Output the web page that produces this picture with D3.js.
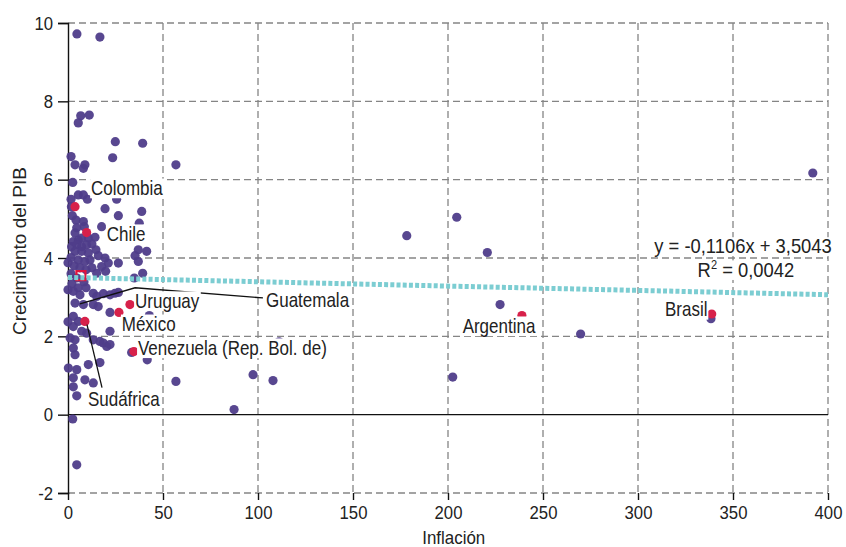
<!DOCTYPE html>
<html>
<head>
<meta charset="utf-8">
<script src="https://cdn.jsdelivr.net/npm/d3@7"></script>
<style>
  body { margin: 0; background: #fff; }
  svg text { font-family: 'Liberation Sans', Arial, sans-serif; fill: #222; }
</style>
</head>
<body>
<script>
// inflación (x) y crecimiento del PIB (y), todos los países
var inflation = [
  4.7, 16.8, 6.7, 11.2, 5.4, 24.9, 39.3, 1.6, 23.5, 3.7, 8.1, 8.9, 56.8, 2.5, 392,
  1.6, 5.4, 8.1, 10.2, 25.6, 41.1, 1.8, 19.5, 38.8, 2.3, 26.5, 4.2, 8.1, 8.6, 37.5,
  17.7, 4.6, 3.7, 5.4, 7.2, 10.7, 14.2, 2.8, 1.9, 4.6, 7.2, 9.8, 12.6, 3.7, 7.2,
  10.7, 14.7, 37.0, 41.4, 35.3, 16.0, 19.5, 5.4, 8.9, 11.6, 0.0, 1.6, 21.2, 17.7, 26.5,
  37.0, 3.2, 6.3, 9.5, 12.6, 39.3, 34.9, 19.8, 15.1, 1.6, 4.7, 8.4, 2.1, 5.3, 9.5,
  0.0, 2.8, 6.3, 13.3, 18.6, 24.7, 22.1, 26.5, 15.1, 3.7, 8.1, 13.3, 15.9, 22.1, 42.8,
  2.8, 5.4, 0.0, 2.8, 7.2, 9.8, 22.1, 1.1, 3.7, 13.3, 16.8, 18.6, 20.4, 22.1, 33.5,
  41.7, 2.8, 3.7, 16.8, 10.7, 0.2, 4.6, 2.8, 8.9, 13.3, 2.8, 4.6, 2.5, 4.6, 56.8,
  97.4, 107.9, 87.4, 111.1, 178.3, 204.6, 220.7, 227.4, 269.8, 202.5, 338.4
];
var growth = [
  9.72, 9.64, 7.63, 7.65, 7.45, 6.97, 6.93, 6.59, 6.56, 6.38, 6.29, 6.38, 6.38, 5.93, 6.17,
  5.50, 5.61, 5.61, 5.50, 5.50, 5.66, 5.31, 5.26, 5.19, 5.08, 5.08, 4.97, 4.93, 4.80, 4.89,
  4.80, 4.77, 4.64, 4.46, 4.51, 4.51, 4.53, 4.42, 4.29, 4.34, 4.29, 4.34, 4.36, 4.17, 4.17,
  4.13, 4.21, 4.21, 4.17, 4.06, 4.06, 4.00, 3.95, 3.91, 3.95, 3.88, 4.01, 3.87, 3.78, 3.87,
  3.91, 3.80, 3.75, 3.70, 3.75, 3.61, 3.49, 3.66, 3.61, 3.60, 3.49, 3.39, 3.34, 3.24, 3.24,
  3.19, 3.15, 3.06, 3.10, 3.09, 3.10, 3.06, 3.12, 3.02, 2.85, 2.81, 2.81, 2.76, 2.61, 2.53,
  2.51, 2.38, 2.37, 2.25, 2.13, 2.08, 2.13, 1.96, 1.91, 1.91, 1.87, 1.83, 1.74, 1.79, 1.59,
  1.40, 1.70, 1.53, 1.33, 1.28, 1.19, 1.15, 0.94, 0.89, 0.81, 0.71, 0.48, -0.11, -1.28, 0.85,
  1.02, 0.87, 0.13, 1.86, 4.57, 5.04, 4.14, 2.81, 2.06, 0.96, 2.45
];

// países destacados
var hlNames     = ["Colombia", "Chile", "Uruguay", "México", "Sudáfrica", "Venezuela (Rep. Bol. de)", "Argentina", "Brasil", "Guatemala"];
var hlInflation = [3.7, 9.8, 32.6, 26.8, 8.9, 34.7, 238.9, 338.8, null];
var hlGrowth    = [5.31, 4.65, 2.81, 2.61, 2.38, 1.61, 2.53, 2.57, null];
// donde empieza el texto de cada etiqueta (unidades de datos)
var labelX = [12.1, 20.4, 35.3, 28.3, 10.5, 36.8, 207.7, 314.2, 104.2];
var labelY = [5.61, 4.44, 2.73, 2.14, 0.21, 1.53, 2.09, 2.51, 2.76];

// líneas guía
var guatemalaLine = [[6.3, 2.83], [35.3, 3.24], [102.6, 2.98]];
var sudafricaLine = [[10.0, 2.30], [17.9, 0.69]];

// promedio y tendencia
var meanPoint = [6.8, 3.55];
var slope = -0.1106, intercept = 3.5043; // x en centenas
var eqText = ["y = -0,1106x + 3,5043", "R", "2", " = 0,0042"];

var xTicks = [0, 50, 100, 150, 200, 250, 300, 350, 400];
var yTicks = [-2, 0, 2, 4, 6, 8, 10];

var W = 846, H = 547;
var margin = { top: 23, right: 18, bottom: 54, left: 68 };
var pw = W - margin.left - margin.right, ph = H - margin.top - margin.bottom;

var x = d3.scaleLinear().domain([0, 400]).range([0, pw]);
var y = d3.scaleLinear().domain([-2, 10]).range([ph, 0]);

var svg = d3.select("body").append("svg").attr("width", W).attr("height", H);
var g = svg.append("g").attr("transform", "translate(" + margin.left + "," + margin.top + ")");

// rejilla
g.append("g").selectAll("line").data(yTicks.filter(function(d) { return d !== 0; }))
  .enter().append("line")
  .attr("x1", 0).attr("x2", pw).attr("y1", d => y(d)).attr("y2", d => y(d))
  .attr("stroke", "#858585").attr("stroke-width", 1.3).attr("stroke-dasharray", "7,4");
g.append("g").selectAll("line").data(xTicks.filter(function(d) { return d !== 0; }))
  .enter().append("line")
  .attr("y1", 0).attr("y2", ph).attr("x1", d => x(d)).attr("x2", d => x(d))
  .attr("stroke", "#858585").attr("stroke-width", 1.3).attr("stroke-dasharray", "7,4");

// ejes (texto estrechado a mano, no hay fuente condensada)
var TICK_SX = 0.88;
var yAxis = d3.axisLeft(y).tickValues(yTicks).tickSize(10).tickPadding(5).tickFormat(d => String(d));
var gy = g.append("g").call(yAxis);
var xAxis = d3.axisBottom(x).tickValues(xTicks).tickSize(7).tickPadding(6).tickFormat(d => String(d));
var gx = g.append("g").attr("transform", "translate(0," + ph + ")").call(xAxis);
gx.select(".domain").remove();
[gx, gy].forEach(function(a) {
  a.selectAll("text").attr("font-size", 19).attr("font-family", null).style("fill", "#222")
    .attr("x", function() { return (+d3.select(this).attr("x") || 0) / TICK_SX; })
    .attr("transform", "scale(" + TICK_SX + ",1)");
  a.selectAll("line").attr("stroke", "#111").attr("stroke-width", 1.4);
  a.select(".domain").attr("stroke", "#111").attr("stroke-width", 1.4);
});

g.append("line").attr("x1", 0).attr("x2", pw).attr("y1", y(0)).attr("y2", y(0))
  .attr("stroke", "#111").attr("stroke-width", 1.4);

// puntos
var pts = inflation.map(function(d, i) { return [d, growth[i]]; });
g.append("g").selectAll("circle").data(pts).enter().append("circle")
  .attr("cx", d => x(d[0])).attr("cy", d => y(d[1])).attr("r", 4.6)
  .attr("fill", "#4f3d8a").attr("fill-opacity", 0.95);

g.append("g").selectAll("circle").data(hlInflation.filter(d => d !== null)).enter().append("circle")
  .attr("cx", d => x(d)).attr("cy", (d, i) => y(hlGrowth[i])).attr("r", 4.6)
  .attr("fill", "#d7214a");

g.append("rect")
  .attr("x", x(meanPoint[0]) - 4.5).attr("y", y(meanPoint[1]) - 4.5)
  .attr("width", 9).attr("height", 9)
  .attr("fill", "none").attr("stroke", "#e0143c").attr("stroke-width", 2.2);

// tendencia
g.append("line")
  .attr("x1", x(0)).attr("x2", x(400))
  .attr("y1", y(intercept)).attr("y2", y(intercept + slope * 4))
  .attr("stroke", "#7ccdd2").attr("stroke-width", 5).attr("stroke-dasharray", "4,2.2");

// líneas guía
var line = d3.line().x(d => x(d[0])).y(d => y(d[1]));
[guatemalaLine, sudafricaLine].forEach(function(l) {
  g.append("path").attr("d", line(l)).attr("fill", "none").attr("stroke", "#111").attr("stroke-width", 1.3);
});

// etiquetas con fondo blanco
function boxedText(sel, xp, yp, parts, size, sx, anchor) {
  var gg = sel.append("g").attr("transform", "translate(" + xp + "," + yp + ") scale(" + sx + ",1)");
  var bg = gg.append("rect").attr("fill", "#fff");
  var t = gg.append("text").attr("font-size", size).attr("text-anchor", anchor || "start");
  if (typeof parts === "string") t.text(parts);
  else parts(t);
  var b = t.node().getBBox();
  bg.attr("x", b.x - 1).attr("y", b.y + 2).attr("width", b.width + 2).attr("height", b.height - 3);
  return gg;
}
var lab = g.append("g");
hlNames.forEach(function(n, i) { boxedText(lab, x(labelX[i]), y(labelY[i]), n, 20, 0.85); });

var eq = g.append("g");
boxedText(eq, x(402), y(4.13), eqText[0], 20, 0.92, "end");
boxedText(eq, x(356.8), y(3.52), function(t) {
  t.append("tspan").text(eqText[1]);
  t.append("tspan").attr("font-size", 12).attr("dy", -8).text(eqText[2]);
  t.append("tspan").attr("dy", 8).text(eqText[3]);
}, 20, 0.92, "middle");

// títulos de ejes
svg.append("text").attr("transform", "translate(" + (margin.left + x(203)) + ",544) scale(0.94,1)")
  .attr("text-anchor", "middle").attr("font-size", 18).text("Inflación");
svg.append("text").attr("transform", "translate(26,251) rotate(-90)").attr("text-anchor", "middle")
  .attr("font-size", 19).text("Crecimiento del PIB");
</script>
</body>
</html>
